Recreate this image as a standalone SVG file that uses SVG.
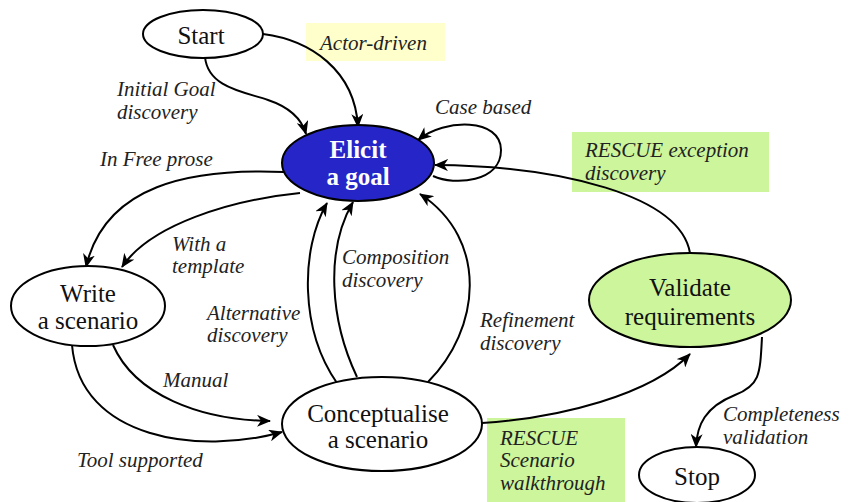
<svg xmlns="http://www.w3.org/2000/svg" width="858" height="502" viewBox="0 0 858 502">
  <style>
    .node { stroke: #000; stroke-width: 2; fill: #fff; }
    .green { fill: #ccf59c; }
    .goal { fill: #2626c8; }
    text { font-family: 'Liberation Serif', 'DejaVu Serif', serif; }
    .ntext { font-size: 25px; fill: #111; text-anchor: middle; }
    .gtext { font-size: 25px; font-weight: bold; fill: #fff; text-anchor: middle; }
    .lbl { font-size: 21px; font-style: italic; fill: #222; }
    .edge { fill: none; stroke: #000; stroke-width: 2; marker-end: url(#arrow); }
  </style>
  <defs>
    <marker id="arrow" viewBox="0 0 14 12" markerUnits="userSpaceOnUse" markerWidth="14" markerHeight="12" refX="13" refY="6" orient="auto">
      <path d="M0,0 L14,6 L0,12 L4,6 z" fill="#000"/>
    </marker>
  </defs>
  <rect width="858" height="502" fill="#fff"/>

  <!-- label backgrounds -->
  <rect x="306" y="23" width="139" height="38" fill="#ffffcc"/>
  <rect x="572" y="132" width="197" height="60" fill="#ccf59c"/>
  <rect x="487" y="418" width="138" height="84" fill="#ccf59c"/>

  <g id="edges">
    <path class="edge" d="M205,57 C208,88 245,92 268,100 C292,108 302,120 306,134"/>
    <path class="edge" d="M263,34 C310,40 355,70 358,127"/>
    <path class="edge" d="M433,176 C455,186 501,182 501,150 C501,118 445,118 418,140"/>
    <path class="edge" d="M690,253 C680,195 560,166 435,165"/>
    <path class="edge" d="M284,172 C190,168 105,185 86,267"/>
    <path class="edge" d="M300,193 C230,200 150,225 122,267"/>
    <path class="edge" d="M113,345 C135,395 200,420 270,421"/>
    <path class="edge" d="M72,345 C80,440 200,455 282,432"/>
    <path class="edge" d="M337,383 C300,330 300,250 327,203"/>
    <path class="edge" d="M357,377 C330,320 325,250 353,202"/>
    <path class="edge" d="M428,382 C480,330 490,240 420,194"/>
    <path class="edge" d="M482,423 C560,418 650,395 690,354"/>
    <path class="edge" d="M762,337 C760,375 760,385 735,395 C705,407 697,425 696,447"/>
  </g>

  <g id="start">
    <ellipse class="node" cx="203" cy="34" rx="60" ry="24"/>
    <text class="ntext" x="201" y="44">Start</text>
  </g>
  <g id="elicit">
    <ellipse class="node goal" cx="358" cy="163" rx="76" ry="38"/>
    <text class="gtext" x="358" y="158">Elicit</text>
    <text class="gtext" x="358" y="185">a goal</text>
  </g>
  <g id="write">
    <ellipse class="node" cx="88" cy="306" rx="77" ry="40"/>
    <text class="ntext" x="88" y="302">Write</text>
    <text class="ntext" x="88" y="329">a scenario</text>
  </g>
  <g id="conceptualise">
    <ellipse class="node" cx="382" cy="424" rx="100" ry="47"/>
    <text class="ntext" x="378" y="422">Conceptualise</text>
    <text class="ntext" x="378" y="448">a scenario</text>
  </g>
  <g id="validate">
    <ellipse class="node green" cx="690" cy="300" rx="101" ry="47"/>
    <text class="ntext" x="690" y="296">Validate</text>
    <text class="ntext" x="690" y="325">requirements</text>
  </g>
  <g id="stop">
    <ellipse class="node" cx="697" cy="475" rx="58" ry="28"/>
    <text class="ntext" x="697" y="485">Stop</text>
  </g>

  <g id="labels">
    <text class="lbl" x="320" y="50">Actor-driven</text>
    <text class="lbl" x="117" y="96">Initial Goal</text>
    <text class="lbl" x="117" y="119">discovery</text>
    <text class="lbl" x="435" y="114">Case based</text>
    <text class="lbl" x="100" y="166">In Free prose</text>
    <text class="lbl" x="585" y="157">RESCUE exception</text>
    <text class="lbl" x="585" y="180">discovery</text>
    <text class="lbl" x="172" y="251">With a</text>
    <text class="lbl" x="172" y="273">template</text>
    <text class="lbl" x="342" y="264">Composition</text>
    <text class="lbl" x="342" y="287">discovery</text>
    <text class="lbl" x="207" y="320">Alternative</text>
    <text class="lbl" x="207" y="342">discovery</text>
    <text class="lbl" x="480" y="327">Refinement</text>
    <text class="lbl" x="480" y="350">discovery</text>
    <text class="lbl" x="163" y="387">Manual</text>
    <text class="lbl" x="77" y="467">Tool supported</text>
    <text class="lbl" x="500" y="445">RESCUE</text>
    <text class="lbl" x="500" y="467">Scenario</text>
    <text class="lbl" x="500" y="490">walkthrough</text>
    <text class="lbl" x="723" y="421">Completeness</text>
    <text class="lbl" x="723" y="444">validation</text>
  </g>
</svg>
